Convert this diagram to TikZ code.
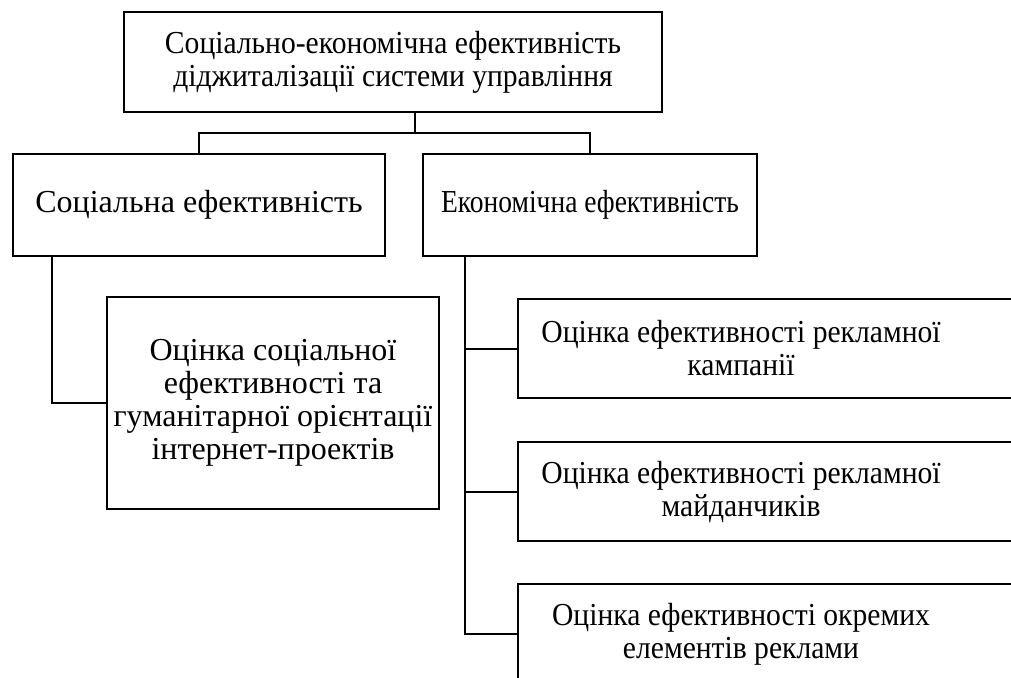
\documentclass[tikz,border=0pt]{standalone}
\usepackage{fontspec}
\setmainfont{Liberation Serif}
\newfontfamily\narrowA[FakeStretch=0.925]{Liberation Serif}
\newfontfamily\narrowB[FakeStretch=0.86]{Liberation Serif}
\begin{document}
\begin{tikzpicture}[x=1pt,y=1pt,line width=2pt,
    box/.style={draw,rectangle,inner sep=0pt,align=center,font=\fontsize{32}{33}\selectfont},
    txt/.style={inner sep=0pt,align=center,font=\fontsize{32}{33}\narrowA}]
    \useasboundingbox(0,0)rectangle(1011,-677);
    \clip(0,0)rectangle(1011,-677);

    \node[box,minimum width=538,minimum height=100,font=\fontsize{32}{33}\narrowA](top)at(393,-62){Соціально-економічна ефективність\\діджиталізації системи управління};
    \node[box,minimum width=372,minimum height=102](soc)at(199,-205){Соціальна ефективність};
    \node[box,minimum width=334,minimum height=102,font=\fontsize{32}{33}\narrowB](eco)at(590,-205){Економічна ефективність};
    \node[box,minimum width=332,minimum height=212](socsub)at(273,-403){Оцінка соціальної\\ефективності та\\гуманітарної орієнтації\\інтернет-проектів};

    \node[box,anchor=north west,minimum width=600,minimum height=99](k1)at(517,-298){};
    \node[box,anchor=north west,minimum width=600,minimum height=99](k2)at(517,-441){};
    \node[box,anchor=north west,minimum width=600,minimum height=100](k3)at(517,-583){};
    \node[txt](t1)at([xshift=224]k1.west){Оцінка ефективності рекламної\\кампанії};
    \node[txt](t2)at([xshift=224]k2.west){Оцінка ефективності рекламної\\майданчиків};
    \node[txt](t3)at([xshift=224]k3.west){Оцінка ефективності окремих\\елементів реклами};

    \coordinate(bus)at(415,-133);
    \coordinate(sl)at(52,-256);
    \coordinate(el)at(465,-256);
    \draw(top.south-|bus)--(bus);
    \draw(soc.north)|-(bus)-|(eco.north);
    \draw(sl)|-(socsub.west);
    \draw(el)|-(k3.west);
    \draw(el|-k1.west)--(k1.west);
    \draw(el|-k2.west)--(k2.west);
\end{tikzpicture}
\end{document}
